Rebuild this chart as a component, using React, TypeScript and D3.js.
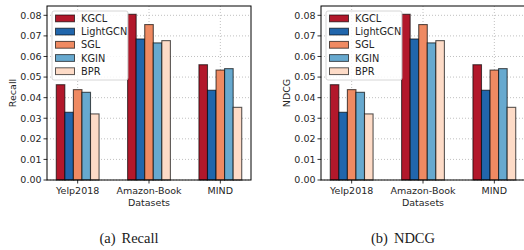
import React from "react";
import * as d3 from "d3";

const datasets = ["Yelp2018", "Amazon-Book", "MIND"];
const methods = ["KGCL", "LightGCN", "SGL", "KGIN", "BPR"];
const colors = ["#b2182b", "#2166ac", "#ef8a62", "#67a9cf", "#fddbc7"];

// values per method, ordered as datasets
const recallKGCL = [0.0463, 0.0805, 0.056];
const recallLightGCN = [0.0329, 0.0685, 0.0436];
const recallSGL = [0.0439, 0.0755, 0.0534];
const recallKGIN = [0.0426, 0.0666, 0.0541];
const recallBPR = [0.0321, 0.0677, 0.0353];

const ndcgKGCL = [0.0463, 0.0805, 0.056];
const ndcgLightGCN = [0.0329, 0.0685, 0.0436];
const ndcgSGL = [0.0439, 0.0755, 0.0534];
const ndcgKGIN = [0.0426, 0.0666, 0.0541];
const ndcgBPR = [0.0321, 0.0677, 0.0353];

const yTicks = [0, 0.01, 0.02, 0.03, 0.04, 0.05, 0.06, 0.07, 0.08];

const recallSeries = [recallKGCL, recallLightGCN, recallSGL, recallKGIN, recallBPR];
const ndcgSeries = [ndcgKGCL, ndcgLightGCN, ndcgSGL, ndcgKGIN, ndcgBPR];

const FONT = "DejaVu Sans, sans-serif";
const BAR_W = 0.12;

function Panel({ x0, series, ylabel, tag, caption }: any) {
  const left = x0;
  const right = x0 + 204;
  const top = 6;
  const bottom = 180;
  const allMax = d3.max(series.flat() as number[]) as number;
  const x = d3.scaleLinear().domain([-0.43, 2.43]).range([left, right]);
  const y = d3.scaleLinear().domain([0, allMax * 1.05]).range([bottom, top]);
  const cx = (left + right) / 2;
  return (
    <g>
      {/* grid */}
      {yTicks.map((t) => (
        <line key={"gy" + t} x1={left} x2={right} y1={y(t)} y2={y(t)} stroke="#b0b0b0" strokeWidth={0.8} strokeDasharray="1,2" />
      ))}
      {datasets.map((d, i) => (
        <line key={"gx" + d} x1={x(i)} x2={x(i)} y1={top} y2={bottom} stroke="#b0b0b0" strokeWidth={0.8} strokeDasharray="1,2" />
      ))}
      {/* bars */}
      {series.map((vals: number[], m: number) =>
        vals.map((v, i) => {
          const xs = x(i + (m - 2) * BAR_W - BAR_W / 2);
          const xe = x(i + (m - 2) * BAR_W + BAR_W / 2);
          return (
            <rect key={m + "-" + i} x={xs} y={y(v)} width={xe - xs} height={y(0) - y(v)} fill={colors[m]} stroke="rgba(0,0,0,0.65)" strokeWidth={1.1} />
          );
        })
      )}
      {/* spines */}
      <rect x={left} y={top} width={right - left} height={bottom - top} fill="none" stroke="#000" strokeWidth={1} />
      {/* y ticks */}
      {yTicks.map((t) => (
        <g key={"yt" + t}>
          <line x1={left - 3.5} x2={left} y1={y(t)} y2={y(t)} stroke="#000" strokeWidth={0.8} />
          <text x={left - 5.5} y={y(t)} dy="0.35em" textAnchor="end" fontFamily={FONT} fontSize={9.5} fill="#262626">
            {t.toFixed(2)}
          </text>
        </g>
      ))}
      {datasets.map((d, i) => (
        <g key={"xt" + d}>
          <line x1={x(i)} x2={x(i)} y1={bottom} y2={bottom + 3.5} stroke="#000" strokeWidth={0.8} />
          <text x={x(i)} y={bottom + 14} textAnchor="middle" fontFamily={FONT} fontSize={9.5} fill="#262626">
            {d}
          </text>
        </g>
      ))}
      <text x={cx} y={bottom + 26} textAnchor="middle" fontFamily={FONT} fontSize={9.5} fill="#262626">
        Datasets
      </text>
      <text transform={`translate(${left - 31},${(top + bottom) / 2}) rotate(-90)`} textAnchor="middle" fontFamily={FONT} fontSize={9.5} fill="#262626">
        {ylabel}
      </text>
      {/* legend */}
      <g>
        <rect x={left + 5} y={11} width={76} height={69} rx={2} fill="rgba(255,255,255,0.85)" stroke="#cccccc" strokeWidth={0.8} />
        {methods.map((m, k) => (
          <g key={"lg" + m}>
            <rect x={left + 8.5} y={15 + k * 13.2} width={19} height={6.8} fill={colors[k]} stroke="rgba(0,0,0,0.65)" strokeWidth={1} />
            <text x={left + 34} y={18.5 + k * 13.2} dy="0.35em" fontFamily={FONT} fontSize={9.8} fill="#262626">
              {m}
            </text>
          </g>
        ))}
      </g>
      {/* caption */}
      <text x={cx - 20} y={243} textAnchor="middle" fontFamily="Liberation Serif, serif" fontSize={14.5} fill="#1a1a1a">
        <tspan>{tag}</tspan>
        <tspan dx={6}>{caption}</tspan>
      </text>
    </g>
  );
}

export default function App() {
  return (
    <svg width={524} height={250} style={{ position: "absolute", left: 0, top: 0, background: "#fff" }}>
      <rect width={524} height={250} fill="#fff" />
      <Panel x0={47} series={recallSeries} ylabel="Recall" tag="(a)" caption="Recall" />
      <Panel x0={321} series={ndcgSeries} ylabel="NDCG" tag="(b)" caption="NDCG" />
    </svg>
  );
}
